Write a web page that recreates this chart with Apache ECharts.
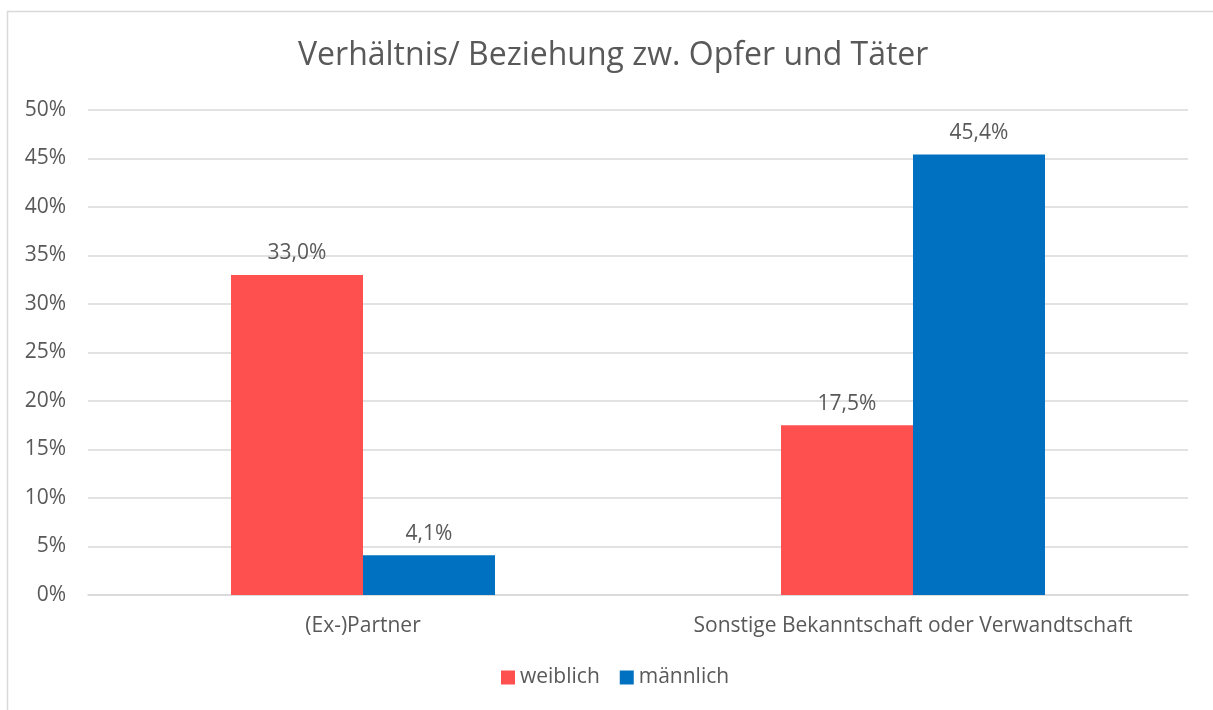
<!DOCTYPE html>
<html>
<head>
<meta charset="utf-8">
<script src="https://cdn.jsdelivr.net/npm/echarts@6/dist/echarts.min.js"></script>
<style>
  html, body { margin: 0; padding: 0; background: #fff; }
  #chart { width: 1213px; height: 710px; }
</style>
</head>
<body>
<div id="chart"></div>
<script>
var categories = ['(Ex-)Partner', 'Sonstige Bekanntschaft oder Verwandtschaft'];
var weiblich = [33.0, 17.5];
var maennlich = [4.1, 45.4];
var seriesNames = ['weiblich', 'männlich'];

var textColor = '#595959';
var font = '"Open Sans", Lato, sans-serif';

function fmt(p) {
    return p.value.toFixed(1).replace('.', ',') + '%';
}

var chart = echarts.init(document.getElementById('chart'));
var option = {
    backgroundColor: '#fff',
    animation: false,
    textStyle: { fontFamily: font },
    graphic: [{
        type: 'rect',
        shape: { x: 7.5, y: 11.5, width: 1220, height: 720 },
        style: { fill: 'none', stroke: '#d9d9d9', lineWidth: 1.5 },
        silent: true
    }],
    title: {
        text: 'Verhältnis/ Beziehung zw. Opfer und Täter',
        left: 293,
        top: 35,
        textStyle: { color: textColor, fontSize: 32, fontWeight: 'normal', fontFamily: font }
    },
    legend: {
        data: seriesNames,
        bottom: 17,
        left: 496,
        itemWidth: 14,
        itemHeight: 14,
        itemGap: 20,
        icon: 'rect',
        textStyle: { color: textColor, fontSize: 21, fontFamily: font }
    },
    grid: { left: 88, right: 25, top: 110, bottom: 115 },
    xAxis: {
        type: 'category',
        data: categories,
        axisTick: { show: false },
        axisLine: { lineStyle: { color: '#d9d9d9', width: 1.5 } },
        axisLabel: { color: textColor, fontSize: 21, margin: 21, interval: 0, fontFamily: font }
    },
    yAxis: {
        type: 'value',
        min: 0,
        max: 50,
        interval: 5,
        axisLine: { show: false },
        axisTick: { show: false },
        axisLabel: { color: textColor, fontSize: 21, margin: 22, formatter: '{value}%', fontFamily: font },
        splitLine: { lineStyle: { color: '#d9d9d9', width: 1.5 } }
    },
    series: [{
        name: seriesNames[0],
        type: 'bar',
        data: weiblich,
        itemStyle: { color: '#FF5050' },
        barGap: '0%',
        barCategoryGap: '52%',
        label: { show: true, position: 'top', distance: 11, color: textColor, fontSize: 21, formatter: fmt, fontFamily: font }
    }, {
        name: seriesNames[1],
        type: 'bar',
        data: maennlich,
        itemStyle: { color: '#0070C0' },
        barGap: '0%',
        barCategoryGap: '52%',
        label: { show: true, position: 'top', distance: 11, color: textColor, fontSize: 21, formatter: fmt, fontFamily: font }
    }]
};
chart.setOption(option);
</script>
</body>
</html>
